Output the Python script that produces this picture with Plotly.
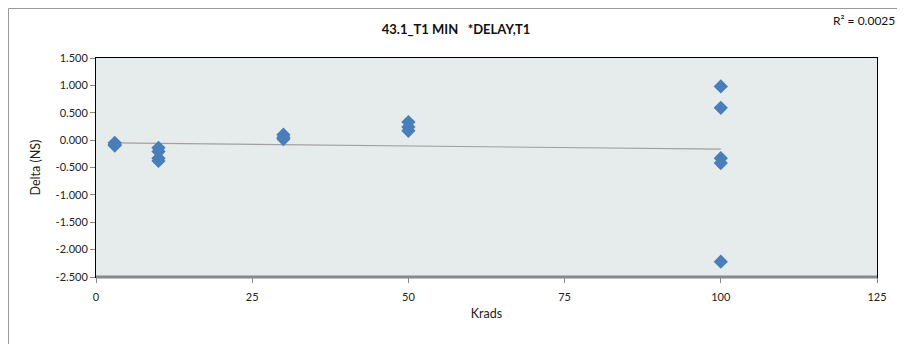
import numpy as np
import plotly.graph_objects as go

krads = [3, 3, 3, 10, 10, 10, 10, 30, 30, 30, 50, 50, 50, 100, 100, 100, 100, 100]
delta = [-0.05, -0.08, -0.10, -0.14, -0.21, -0.33, -0.38, 0.10, 0.05, 0.02, 0.33, 0.24, 0.17, 0.98, 0.59, -0.33, -0.42, -2.22]
title = "43.1_T1 MIN\u00a0\u00a0\u00a0*DELAY,T1"
r2_text = "R² = 0.0025"
x_ticks = [0, 25, 50, 75, 100, 125]
y_ticks = [1.5, 1.0, 0.5, 0.0, -0.5, -1.0, -1.5, -2.0, -2.5]

slope, intercept = np.polyfit(krads, delta, 1)
tx = [min(krads), max(krads)]
ty = [slope * v + intercept for v in tx]

fig = go.Figure()
fig.add_trace(go.Scatter(x=tx, y=ty, mode="lines", line=dict(color="#a0a0a0", width=1.2),
                         showlegend=False, hoverinfo="skip"))
fig.add_trace(go.Scatter(x=krads, y=delta, mode="markers",
                         marker=dict(symbol="diamond", size=11, color="#4a7ebb"),
                         showlegend=False))

font_family = "Lato, 'Open Sans', sans-serif"
fig.update_layout(
    width=905, height=344,
    margin=dict(l=88, r=36, t=50, b=75),
    paper_bgcolor="white",
    plot_bgcolor="#e6ecec",
    font=dict(family=font_family, size=11, color="#222"),
    title=dict(text="<b>" + title + "</b>", xref="paper", x=0.461, xanchor="center",
               y=0.939, yanchor="middle", font=dict(size=13, color="#111")),
    xaxis=dict(range=[0, 125], tickvals=x_ticks, ticktext=[str(v) for v in x_ticks],
               showgrid=False, zeroline=False, ticks="outside", ticklen=5, tickcolor="#888",
               ticklabelstandoff=5,
               showline=True, linecolor="#000", linewidth=1, mirror=True, automargin=False,
               title=dict(text="Krads", font=dict(size=12.5), standoff=7)),
    yaxis=dict(range=[-2.5, 1.5], tickvals=y_ticks, ticktext=[f"{v:.3f}" for v in y_ticks],
               showgrid=False, zeroline=False, ticks="outside", ticklen=5, tickcolor="#888",
               showline=True, linecolor="#000", linewidth=1, mirror=True, automargin=False,
               title=dict(text="Delta (NS)", font=dict(size=12.5), standoff=12)),
    annotations=[dict(text=r2_text, xref="paper", yref="paper", x=1.0256, y=1.1735,
                      xanchor="right", yanchor="middle", showarrow=False,
                      font=dict(size=12, color="#111"))],
    shapes=[
        dict(type="line", xref="paper", yref="paper", x0=0, x1=1, y0=0, y1=0,
             line=dict(color="#888", width=3)),
        dict(type="rect", xref="paper", yref="paper", x0=-0.1120, x1=1.2, y0=-0.6, y1=1.2260,
             line=dict(color="#9a9a9a", width=1), fillcolor="rgba(0,0,0,0)", layer="below"),
    ],
)

fig.write_html("out.html")
